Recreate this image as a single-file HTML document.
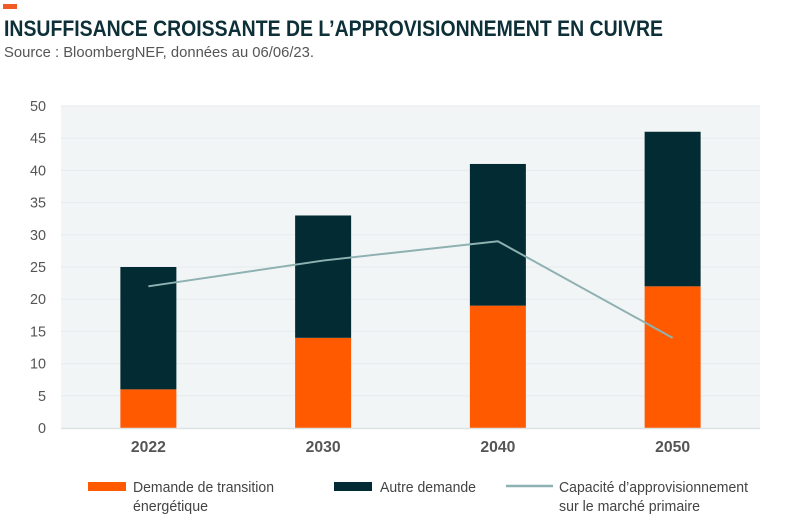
<!DOCTYPE html>
<html><head><meta charset="utf-8"><style>
html,body{margin:0;padding:0;background:#fff;}
svg{display:block;font-family:"Liberation Sans Narrow","Liberation Sans",sans-serif;}
</style></head><body>
<svg id="chart" width="800" height="522" viewBox="0 0 800 522">
<rect x="3" y="4" width="14" height="5" fill="#f15a24"/>
<text x="4" y="36" font-family="Liberation Sans, sans-serif" font-weight="bold" font-size="22" fill="#0d3038" textLength="659" lengthAdjust="spacingAndGlyphs">INSUFFISANCE CROISSANTE DE L’APPROVISIONNEMENT EN CUIVRE</text>
<text x="4" y="57" font-family="Liberation Sans, sans-serif" font-size="15" fill="#555" textLength="310" lengthAdjust="spacingAndGlyphs">Source : BloombergNEF, données au 06/06/23.</text>
<rect x="61" y="106" width="699" height="322" fill="#f2f5f6"/>
<g id="grid"></g><g id="bars"></g><g id="line"></g><g id="axes"></g>
<g font-size="15" fill="#444">
<rect x="88" y="482" width="38" height="9" fill="#ff5a00"/>
<text x="133" y="492" textLength="141" lengthAdjust="spacingAndGlyphs">Demande de transition</text>
<text x="133" y="511" textLength="75" lengthAdjust="spacingAndGlyphs">énergétique</text>
<rect x="334" y="482" width="38" height="9" fill="#022b33"/>
<text x="380" y="492" textLength="96" lengthAdjust="spacingAndGlyphs">Autre demande</text>
<line x1="506" y1="486" x2="553" y2="486" stroke="#8fb1b1" stroke-width="2.5"/>
<text x="559" y="492" textLength="189" lengthAdjust="spacingAndGlyphs">Capacité d’approvisionnement</text>
<text x="559" y="511" textLength="141" lengthAdjust="spacingAndGlyphs">sur le marché primaire</text>
</g>
</svg>
<script>
const categories = ["2022","2030","2040","2050"];
const transitionDemand = [6,14,19,22];
const otherDemand = [19,19,22,24];
const supplyCapacity = [22,26,29,14];
const yTicks = [0,5,10,15,20,25,30,35,40,45,50];

const NS="http://www.w3.org/2000/svg";
const L=61,R=760,T=106,B=428,yMax=50;
const band=(R-L)/categories.length, bw=56;
const y=v=>B-(v/yMax)*(B-T);
const xc=i=>L+band*(i+0.5);
function mk(tag,attrs,parent){const e=document.createElementNS(NS,tag);for(const k in attrs)e.setAttribute(k,attrs[k]);parent.appendChild(e);return e;}
const grid=document.getElementById('grid'),bars=document.getElementById('bars'),line=document.getElementById('line'),axes=document.getElementById('axes');
yTicks.forEach(t=>{
  if(t>0){const g=mk('line',{x1:L,x2:R,y1:y(t),y2:y(t),stroke:'#e6ebed','stroke-width':1},grid);
  
  }
  const s=String(t);
  const tx=mk('text',{x:46,y:y(t)+5,'text-anchor':'end','font-size':15,fill:'#555',textLength:s.length*8,lengthAdjust:'spacingAndGlyphs'},axes);
  tx.textContent=s;
  
  
});
const base=mk('line',{x1:L,x2:R,y1:B+0.5,y2:B+0.5,stroke:'#dde3e5','stroke-width':1.5},axes);


categories.forEach((c,i)=>{
  const a=mk('rect',{x:xc(i)-bw/2,y:y(transitionDemand[i]),width:bw,height:B-y(transitionDemand[i]),fill:'#ff5a00'},bars);
  
  
  const tot=transitionDemand[i]+otherDemand[i];
  const b=mk('rect',{x:xc(i)-bw/2,y:y(tot),width:bw,height:y(transitionDemand[i])-y(tot),fill:'#022b33'},bars);
  
  
  const tx=mk('text',{x:xc(i),y:452,'text-anchor':'middle','font-size':16,'font-weight':'bold',fill:'#555',textLength:35,lengthAdjust:'spacingAndGlyphs'},axes);
  tx.textContent=c;
  
  
});
const pl=mk('polyline',{points:supplyCapacity.map((v,i)=>xc(i)+','+y(v)).join(' '),fill:'none',stroke:'#8fb1b1','stroke-width':2},line);


</script>
</body></html>
